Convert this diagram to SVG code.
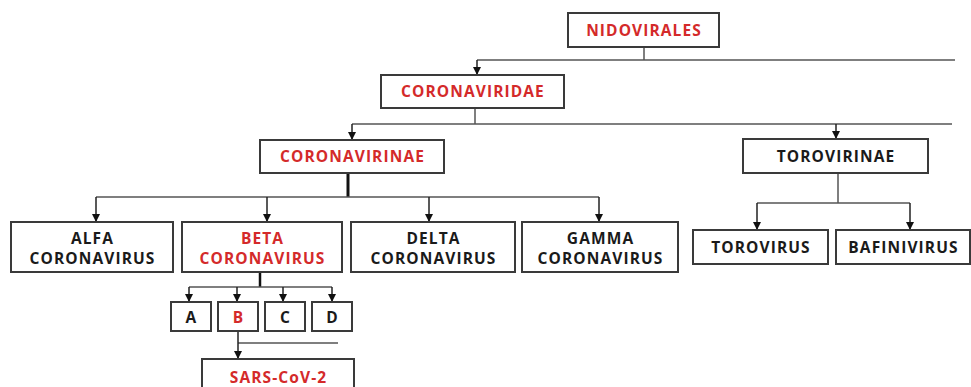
<svg xmlns="http://www.w3.org/2000/svg" width="971" height="387" viewBox="0 0 971 387">
<style>
.box{fill:#fff;stroke:#3a3a3a;stroke-width:2}
.t{font-family:"Open Sans","Liberation Sans",sans-serif;font-weight:bold;font-size:15.5px;letter-spacing:1.1px;text-anchor:middle;fill:#1a1a1a}
.r{fill:#d42a2a}
.ln{fill:none;stroke:#555;stroke-width:1.5}
.ar{fill:none;stroke:#222;stroke-width:1.5;marker-end:url(#ah)}
</style>
<defs>
<marker id="ah" viewBox="0 0 10 10" refX="10" refY="5" markerWidth="8" markerHeight="8" markerUnits="userSpaceOnUse" orient="auto">
<path d="M0,0 L10,5 L0,10 z" fill="#111"/>
</marker>
</defs>
<g id="connectors">
<path class="ln" d="M644,47 V60 M477,60 H955"/>
<path class="ar" d="M477,60 V75"/>
<path class="ln" d="M475,107 V124 M352,124 H952"/>
<path class="ar" d="M352,124 V140"/>
<path class="ar" d="M836,124 V139"/>
<path class="ln" d="M348,173 V197" style="stroke:#111;stroke-width:3"/>
<path class="ln" d="M96,197 H599"/>
<path class="ar" d="M96,197 V222"/>
<path class="ar" d="M267,197 V222"/>
<path class="ar" d="M429,197 V222"/>
<path class="ar" d="M599,197 V222"/>
<path class="ln" d="M838,173 V203 M757,203 H910"/>
<path class="ar" d="M757,203 V230"/>
<path class="ar" d="M910,203 V230"/>
<path class="ln" d="M260,272 V287" style="stroke:#111;stroke-width:2.5"/>
<path class="ln" d="M189,287 H332"/>
<path class="ar" d="M189,287 V302"/>
<path class="ar" d="M237,287 V302"/>
<path class="ar" d="M283,287 V302"/>
<path class="ar" d="M332,287 V302"/>
<path class="ln" d="M238,343 H338"/>
<path class="ar" d="M238,331 V359"/>
</g>
<g id="nidovirales"><rect class="box" x="568" y="13" width="151" height="34"/><text class="t r" x="644" y="35.5">NIDOVIRALES</text></g>
<g id="coronaviridae"><rect class="box" x="381" y="75" width="183" height="33"/><text class="t r" x="473" y="97">CORONAVIRIDAE</text></g>
<g id="coronavirinae"><rect class="box" x="260" y="140" width="184" height="33"/><text class="t r" x="352.5" y="162">CORONAVIRINAE</text></g>
<g id="torovirinae"><rect class="box" x="743" y="139" width="185" height="34"/><text class="t" x="836" y="161.5">TOROVIRINAE</text></g>
<g id="alfa"><rect class="box" x="11" y="222" width="162" height="50"/><text class="t" x="92.5" y="243.5">ALFA</text><text class="t" x="92.5" y="263.5">CORONAVIRUS</text></g>
<g id="beta"><rect class="box" x="182" y="222" width="160" height="50"/><text class="t r" x="262.5" y="243.5">BETA</text><text class="t r" x="262.5" y="263.5">CORONAVIRUS</text></g>
<g id="delta"><rect class="box" x="351" y="222" width="164" height="50"/><text class="t" x="433.5" y="243.5">DELTA</text><text class="t" x="433.5" y="263.5">CORONAVIRUS</text></g>
<g id="gamma"><rect class="box" x="522" y="222" width="156" height="50"/><text class="t" x="600.5" y="243.5">GAMMA</text><text class="t" x="600.5" y="263.5">CORONAVIRUS</text></g>
<g id="torovirus"><rect class="box" x="693" y="230" width="135" height="34"/><text class="t" x="761" y="252.5">TOROVIRUS</text></g>
<g id="bafinivirus"><rect class="box" x="836" y="230" width="134" height="34"/><text class="t" x="903.5" y="252.5">BAFINIVIRUS</text></g>
<g id="a"><rect class="box" x="171" y="302" width="40" height="29"/><text class="t" x="191.5" y="322.5">A</text></g>
<g id="b"><rect class="box" x="218" y="302" width="40" height="29"/><text class="t r" x="238.5" y="322.5">B</text></g>
<g id="c"><rect class="box" x="265" y="302" width="40" height="29"/><text class="t" x="285.5" y="322.5">C</text></g>
<g id="d"><rect class="box" x="312" y="302" width="40" height="29"/><text class="t" x="332.5" y="322.5">D</text></g>
<g id="sars"><rect class="box" x="202" y="359" width="152" height="40"/><text class="t r" x="278.5" y="383">SARS-CoV-2</text></g>
</svg>
